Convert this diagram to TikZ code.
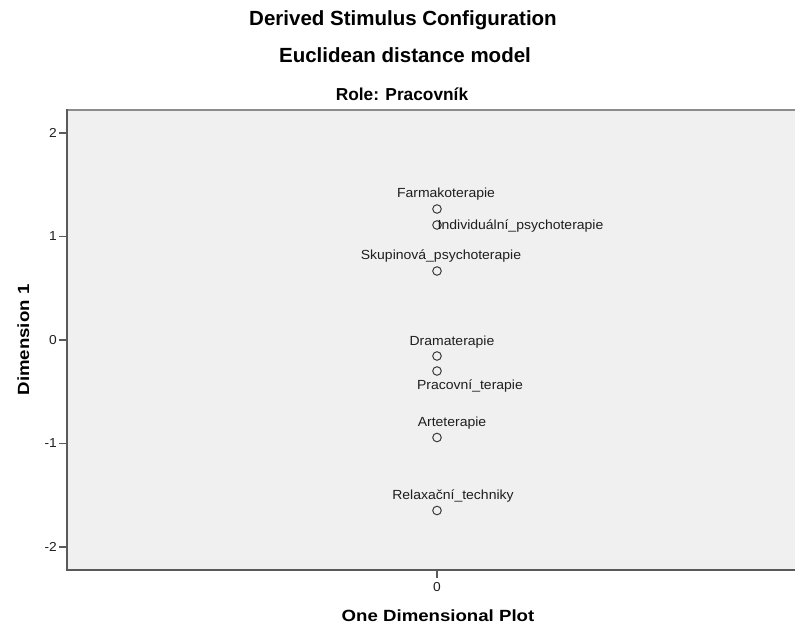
\documentclass[tikz,border=0pt]{standalone}
\usepackage{fontspec}
\setmainfont{Liberation Sans}
\newfontfamily\lblfont[FakeStretch=1.06]{Liberation Sans}
\newfontfamily\axtitlefont[FakeStretch=1.15]{Liberation Sans Bold}
\newfontfamily\titlefont{Liberation Sans Bold}
\definecolor{panel}{HTML}{F0F0F0}
\definecolor{frametop}{HTML}{8C8C8C}
\definecolor{axisline}{HTML}{5A5A5A}
\definecolor{marker}{HTML}{3C3C3C}
\definecolor{inktext}{HTML}{1E1E1E}
\begin{document}
\begin{tikzpicture}[x=1pt,y=-1pt,
  title/.style={inner sep=0pt,anchor=base,text=black,font=\titlefont\fontsize{20.5}{24}\selectfont},
  subtitle/.style={inner sep=0pt,anchor=base,text=black,font=\titlefont\fontsize{17.3}{20}\selectfont},
  axtitle/.style={inner sep=0pt,anchor=base,text=black,font=\axtitlefont\fontsize{16.2}{19}\selectfont},
  ticklbl/.style={inner sep=0pt,text=inktext,font=\lblfont\fontsize{13}{15}\selectfont},
  ptlbl/.style={inner sep=0pt,anchor=base,text=inktext,font=\lblfont\fontsize{13.2}{15}\selectfont},
  pt/.style={circle,draw=marker,line width=1pt,minimum size=8.6pt,inner sep=0pt},
  tickmark/.style={draw=axisline,line width=1.6pt}]
\useasboundingbox (0,0) rectangle (795,628);
\fill[white] (0,0) rectangle (795,628);

% titles
\node[title] (t1) at (403,25.7) {Derived Stimulus Configuration};
\node[title] (t2) at (405,63) {Euclidean distance model};
\node[subtitle] (t3) at (402,100.5) {Role: Pracovník};

% plotting panel
\fill[panel] (67,110) rectangle (795,570);
\draw[frametop,line width=1.6pt] (67,110) -- (795,110);
\draw[axisline,line width=2pt] (67,109.5) -- (67,570) -- (795,570);

% vertical axis ticks and labels
\foreach \v/\yy in {2/133,1/236.5,0/340,-1/443.5,-2/547}{
  \coordinate (yt\v) at (67,\yy);
  \coordinate (ys\v) at (59,\yy);
  \draw[tickmark] (ys\v) -- (yt\v);
  \node[ticklbl,anchor=east] (yl\v) at (57,\yy) {\v};
}

% horizontal axis tick
\coordinate (xt0) at (437,570);
\coordinate (xs0) at (437,578);
\draw[tickmark] (xt0) -- (xs0);
\node[ticklbl,anchor=north] (xl0) at (437,582) {0};

% axis titles
\node[axtitle,rotate=90] (ylab) at (29,340) {Dimension 1};
\node[axtitle] (xlab) at (438,621) {One Dimensional Plot};

% stimulus points
\node[pt] (farma) at (437,209) {};
\node[pt] (indiv) at (437,225) {};
\node[pt] (skup) at (437,271) {};
\node[pt] (drama) at (437,356) {};
\node[pt] (prac) at (437,371) {};
\node[pt] (arte) at (437,437.5) {};
\node[pt] (relax) at (437,510.5) {};

% point labels
\node[ptlbl] (farmaL) at (446,198) {Farmakoterapie};
\node[ptlbl,anchor=base west] (indivL) at (437.5,229.5) {Individuální\_psychoterapie};
\node[ptlbl] (skupL) at (441,260) {Skupinová\_psychoterapie};
\node[ptlbl] (dramaL) at (452,345.5) {Dramaterapie};
\node[ptlbl] (pracL) at (470,389.5) {Pracovní\_terapie};
\node[ptlbl] (arteL) at (452,426.5) {Arteterapie};
\node[ptlbl] (relaxL) at (453,499.5) {Relaxační\_techniky};
\end{tikzpicture}
\end{document}
